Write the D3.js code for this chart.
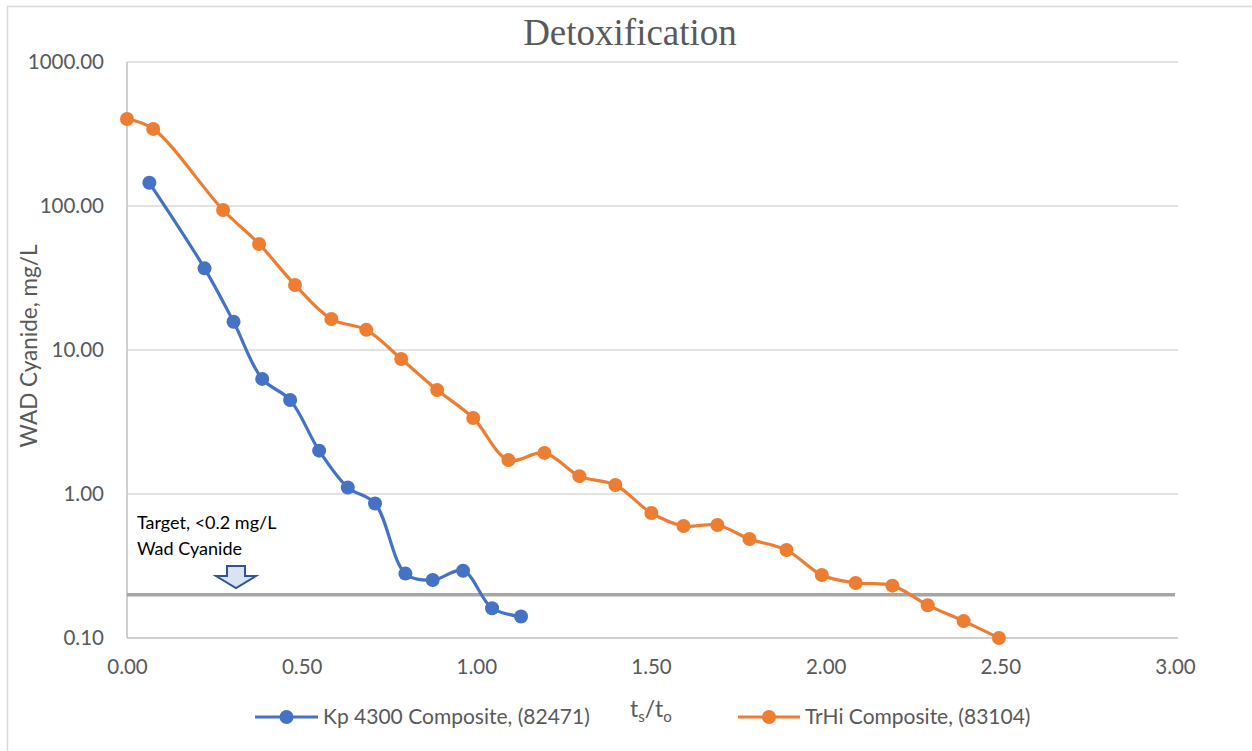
<!DOCTYPE html>
<html>
<head>
<meta charset="utf-8">
<script src="https://cdn.jsdelivr.net/npm/d3@7"></script>
<style>
  html, body { margin: 0; padding: 0; background: #fff; }
  svg { display: block; }
</style>
</head>
<body>
<svg id="chart" width="1252" height="751"></svg>
<script>
// ---- Data ----
const kpX = [0.064, 0.222, 0.305, 0.387, 0.467, 0.550, 0.632, 0.710, 0.797, 0.875, 0.962, 1.045, 1.128];
const kpY = [145, 36.9, 15.7, 6.3, 4.5, 2.0, 1.11, 0.86, 0.28, 0.253, 0.293, 0.161, 0.141];

const trX = [0.0, 0.075, 0.275, 0.378, 0.481, 0.585, 0.685, 0.785, 0.888, 0.991, 1.092, 1.195, 1.295, 1.398, 1.501, 1.593, 1.690, 1.782, 1.888, 1.989, 2.086, 2.191, 2.292, 2.395, 2.496];
const trY = [402, 343, 93.8, 54.5, 28.3, 16.4, 13.8, 8.66, 5.27, 3.37, 1.72, 1.93, 1.33, 1.155, 0.738, 0.60, 0.609, 0.487, 0.408, 0.274, 0.241, 0.231, 0.169, 0.131, 0.100];

const targetX = [0, 3];
const targetY = [0.2, 0.2];

const xTicks = [0, 0.5, 1, 1.5, 2, 2.5, 3];
const yTicks = [0.1, 1, 10, 100, 1000];

const seriesNames = ["Kp 4300 Composite, (82471)", "TrHi Composite, (83104)"];
const seriesColors = ["#4472C4", "#ED7D31"];

const titleText = "Detoxification";
const yLabelText = "WAD Cyanide, mg/L";
const targetLines = ["Target, <0.2 mg/L", "Wad Cyanide"];

// ---- Layout ----
const svg = d3.select("#chart");
const plot = { left: 127, right: 1175, top: 62, bottom: 638 };
const font = "Lato, 'Open Sans', sans-serif";

const x = d3.scaleLinear().domain([0, 3]).range([plot.left, plot.right]);
const y = d3.scaleLog().domain([0.1, 1000]).range([plot.bottom, plot.top]);

// outer chart border
svg.append("rect").attr("x", 7.5).attr("y", 6.5).attr("width", 1260).attr("height", 760)
  .attr("fill", "none").attr("stroke", "#d9d9d9").attr("stroke-width", 1.5);

// gridlines
svg.append("g").selectAll("line").data(yTicks).join("line")
  .attr("x1", plot.left).attr("x2", plot.right + 3)
  .attr("y1", d => y(d)).attr("y2", d => y(d))
  .attr("stroke", (d, i) => i === 0 ? "#bfbfbf" : "#d9d9d9").attr("stroke-width", 1.5);

// left axis line
svg.append("line").attr("x1", plot.left).attr("x2", plot.left)
  .attr("y1", plot.top).attr("y2", plot.bottom)
  .attr("stroke", "#bfbfbf").attr("stroke-width", 1.5);

// y tick labels
const yAxis = d3.axisLeft(y).tickValues(yTicks).tickFormat(d3.format(".2f")).tickSize(0).tickPadding(23);
const gy = svg.append("g").attr("transform", `translate(${plot.left},0)`).call(yAxis);
gy.select(".domain").remove();
gy.selectAll("text").attr("font-family", font).attr("font-size", 20.5).attr("fill", "#595959");

// x tick labels
const xAxis = d3.axisBottom(x).tickValues(xTicks).tickFormat(d3.format(".2f")).tickSize(0).tickPadding(21);
const gx = svg.append("g").attr("transform", `translate(0,${plot.bottom})`).call(xAxis);
gx.select(".domain").remove();
gx.selectAll("text").attr("font-family", font).attr("font-size", 20.5).attr("fill", "#595959");

// target line
const line = d3.line().x(d => x(d[0])).y(d => y(d[1]));
svg.append("path").datum(d3.zip(targetX, targetY))
  .attr("d", line).attr("fill", "none").attr("stroke", "#a5a5a5").attr("stroke-width", 3.5);

// series
const smooth = d3.line().x(d => x(d[0])).y(d => y(d[1])).curve(d3.curveCatmullRom.alpha(0.5));
const series = [d3.zip(kpX, kpY), d3.zip(trX, trY)];
series.forEach((pts, i) => {
  svg.append("path").datum(pts).attr("d", smooth)
    .attr("fill", "none").attr("stroke", seriesColors[i]).attr("stroke-width", 3.2)
    .attr("stroke-linejoin", "round");
  svg.append("g").selectAll("circle").data(pts).join("circle")
    .attr("cx", d => x(d[0])).attr("cy", d => y(d[1])).attr("r", 7)
    .attr("fill", seriesColors[i]);
});

// title
svg.append("text").attr("x", 630).attr("y", 45).attr("text-anchor", "middle")
  .attr("font-family", "'Liberation Serif', 'Times New Roman', serif").attr("font-size", 37)
  .attr("fill", "#595959").text(titleText);

// y label
svg.append("text").attr("transform", "translate(37,346) rotate(-90)")
  .attr("text-anchor", "middle").attr("font-family", font).attr("font-size", 22.5)
  .attr("fill", "#595959").text(yLabelText);

// target annotation
svg.append("g").selectAll("text").data(targetLines).join("text")
  .attr("x", 137).attr("y", (d, i) => 529 + i * 26)
  .attr("font-family", font).attr("font-size", 18).attr("fill", "#000").text(d => d);

// down arrow
const ax = 236, at = 566, ab = 588;
svg.append("path")
  .attr("d", `M${ax - 9},${at} L${ax + 9},${at} L${ax + 9},${at + 10} L${ax + 20},${at + 10} L${ax},${ab} L${ax - 20},${at + 10} L${ax - 9},${at + 10} Z`)
  .attr("fill", "#dae3f3").attr("stroke", "#2f5597").attr("stroke-width", 2);

// x axis label ts/to
const xl = svg.append("text").attr("x", 630).attr("y", 717)
  .attr("font-family", font).attr("font-size", 23).attr("fill", "#595959");
xl.append("tspan").text("t");
xl.append("tspan").attr("font-size", 15).attr("dy", 5).text("s");
xl.append("tspan").attr("dy", -5).text("/t");
xl.append("tspan").attr("font-size", 15).attr("dy", 5).text("o");

// legend
const legendItems = [
  { x0: 255, x1: 318, tx: 323 },
  { x0: 738, x1: 800, tx: 805 }
];
legendItems.forEach((it, i) => {
  const g = svg.append("g");
  g.append("line").attr("x1", it.x0).attr("x2", it.x1).attr("y1", 717).attr("y2", 717)
    .attr("stroke", seriesColors[i]).attr("stroke-width", 3.2);
  g.append("circle").attr("cx", (it.x0 + it.x1) / 2).attr("cy", 717).attr("r", 7).attr("fill", seriesColors[i]);
  g.append("text").attr("x", it.tx).attr("y", 724).attr("font-family", font).attr("font-size", 21)
    .attr("fill", "#595959").text(seriesNames[i]);
});
</script>
</body>
</html>
